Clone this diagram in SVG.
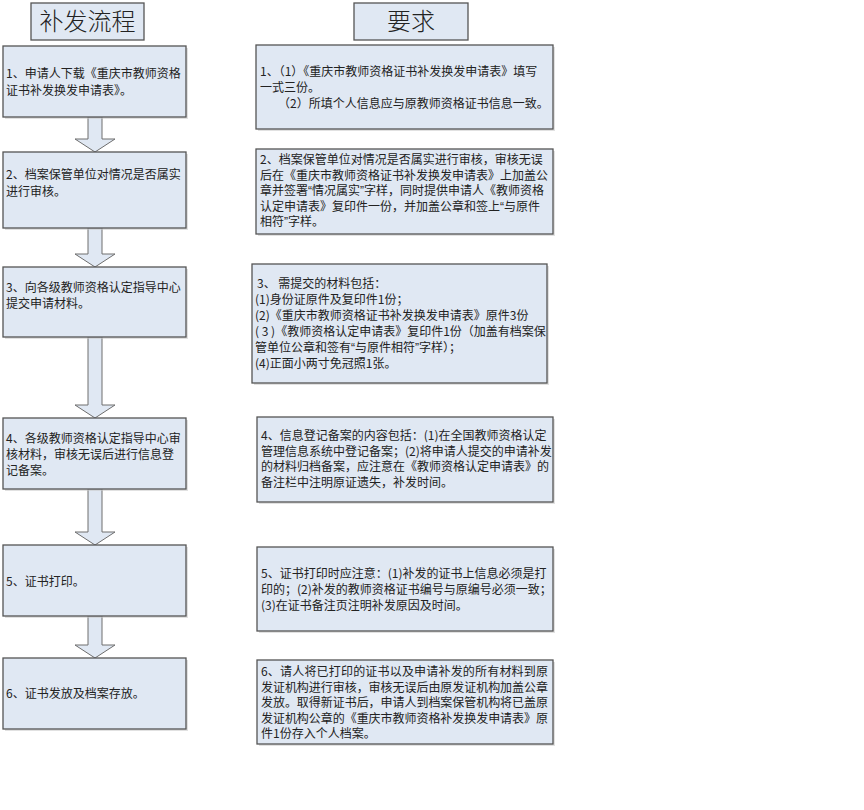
<svg xmlns="http://www.w3.org/2000/svg" width="864" height="810" viewBox="0 0 864 810">
<style>
.bg{fill:#ffffff}
.box{fill:#e0e8f3;stroke:#555555;stroke-width:1.3}
.sh{fill:#c8c8c8;opacity:0.55}
.arr{fill:#e0e8f3;stroke:#6e6e6e;stroke-width:1}
.t{font-family:"Noto Sans CJK SC","Noto Sans",sans-serif;font-size:12px;fill:#222222}
.h{font-family:"Noto Sans CJK SC","Noto Sans",sans-serif;font-size:24px;font-weight:300;fill:#222222;text-anchor:middle}
.q{font-family:"Liberation Sans",sans-serif}
</style>
<rect class="bg" x="0" y="0" width="864" height="810"/>

<g id="connectors">
  <polygon class="arr" points="88,117 102,117 102,139 115,139 95,152 75,139 88,139"/>
  <polygon class="arr" points="88,228 102,228 102,254 115,254 95,267 75,254 88,254"/>
  <polygon class="arr" points="88,337 102,337 102,405 115,405 95,418 75,405 88,405"/>
  <polygon class="arr" points="88,489 102,489 102,532 115,532 95,545 75,532 88,532"/>
  <polygon class="arr" points="88,616 102,616 102,645 115,645 95,658 75,645 88,645"/>
</g>

<g id="title-process">
  <rect class="box" x="31" y="3" width="113" height="37"/>
  <text class="h" x="87.5" y="30">补发流程</text>
</g>
<g id="title-requirements">
  <rect class="box" x="354" y="3" width="114" height="37"/>
  <text class="h" x="411" y="30">要求</text>
</g>

<g id="step1">
  <rect class="sh" x="5" y="48" width="183" height="71"/>
  <rect class="box" x="3" y="46" width="183" height="71"/>
  <text class="t" x="6" y="78">1、申请人下载《重庆市教师资格</text>
  <text class="t" x="6" y="95">证书补发换发申请表》。</text>
</g>
<g id="step2">
  <rect class="sh" x="5" y="154" width="183" height="76"/>
  <rect class="box" x="3" y="152" width="183" height="76"/>
  <text class="t" x="6" y="179">2、档案保管单位对情况是否属实</text>
  <text class="t" x="6" y="196">进行审核。</text>
</g>
<g id="step3">
  <rect class="sh" x="5" y="269" width="183" height="70"/>
  <rect class="box" x="3" y="267" width="183" height="70"/>
  <text class="t" x="6" y="292">3、向各级教师资格认定指导中心</text>
  <text class="t" x="6" y="308">提交申请材料。</text>
</g>
<g id="step4">
  <rect class="sh" x="5" y="420" width="183" height="71"/>
  <rect class="box" x="3" y="418" width="183" height="71"/>
  <text class="t" x="6" y="443">4、各级教师资格认定指导中心审</text>
  <text class="t" x="6" y="459">核材料，审核无误后进行信息登</text>
  <text class="t" x="6" y="475">记备案。</text>
</g>
<g id="step5">
  <rect class="sh" x="5" y="547" width="183" height="71"/>
  <rect class="box" x="3" y="545" width="183" height="71"/>
  <text class="t" x="6" y="586">5、证书打印。</text>
</g>
<g id="step6">
  <rect class="sh" x="5" y="660" width="183" height="71"/>
  <rect class="box" x="3" y="658" width="183" height="71"/>
  <text class="t" x="6" y="698">6、证书发放及档案存放。</text>
</g>

<g id="req1">
  <rect class="sh" x="258" y="47" width="297" height="84"/>
  <rect class="box" x="256" y="45" width="297" height="84"/>
  <text class="t" x="260" y="76">1、（1）《重庆市教师资格证书补发换发申请表》填写</text>
  <text class="t" x="260" y="92">一式三份。</text>
  <text class="t" x="278" y="108">（2）所填个人信息应与原教师资格证书信息一致。</text>
</g>
<g id="req2">
  <rect class="sh" x="258" y="151" width="297" height="85"/>
  <rect class="box" x="256" y="149" width="297" height="85"/>
  <text class="t" x="260" y="164">2、档案保管单位对情况是否属实进行审核，审核无误</text>
  <text class="t" x="260" y="179.5">后在《重庆市教师资格证书补发换发申请表》上加盖公</text>
  <text class="t" x="260" y="195">章并签署<tspan class="q">“</tspan>情况属实<tspan class="q">”</tspan>字样，同时提供申请人《教师资格</text>
  <text class="t" x="260" y="210.5">认定申请表》复印件一份，并加盖公章和签上<tspan class="q">“</tspan>与原件</text>
  <text class="t" x="260" y="226">相符<tspan class="q">”</tspan>字样。</text>
</g>
<g id="req3">
  <rect class="sh" x="254" y="266" width="295" height="119"/>
  <rect class="box" x="252" y="264" width="295" height="119"/>
  <text class="t" x="257" y="288">3、 需提交的材料包括：</text>
  <text class="t" x="255" y="304">(1)身份证原件及复印件1份；</text>
  <text class="t" x="255" y="320">(2)《重庆市教师资格证书补发换发申请表》原件3份</text>
  <text class="t" x="255" y="336">( 3 )《教师资格认定申请表》复印件1份（加盖有档案保</text>
  <text class="t" x="255" y="352">管单位公章和签有<tspan class="q">“</tspan>与原件相符<tspan class="q">”</tspan>字样）；</text>
  <text class="t" x="255" y="368">(4)正面小两寸免冠照1张。</text>
</g>
<g id="req4">
  <rect class="sh" x="259" y="419" width="296" height="85"/>
  <rect class="box" x="257" y="417" width="296" height="85"/>
  <text class="t" x="261" y="440">4、信息登记备案的内容包括：(1)在全国教师资格认定</text>
  <text class="t" x="261" y="455.5">管理信息系统中登记备案；(2)将申请人提交的申请补发</text>
  <text class="t" x="261" y="471">的材料归档备案，应注意在《教师资格认定申请表》的</text>
  <text class="t" x="261" y="486.5">备注栏中注明原证遗失，补发时间。</text>
</g>
<g id="req5">
  <rect class="sh" x="259" y="549" width="296" height="84"/>
  <rect class="box" x="257" y="547" width="296" height="84"/>
  <text class="t" x="261" y="578">5、证书打印时应注意：(1)补发的证书上信息必须是打</text>
  <text class="t" x="261" y="594">印的；(2)补发的教师资格证书编号与原编号必须一致；</text>
  <text class="t" x="261" y="610">(3)在证书备注页注明补发原因及时间。</text>
</g>
<g id="req6">
  <rect class="sh" x="259" y="662" width="296" height="84"/>
  <rect class="box" x="257" y="660" width="296" height="84"/>
  <text class="t" x="261" y="676" textLength="287" lengthAdjust="spacing">6、请人将已打印的证书以及申请补发的所有材料到原</text>
  <text class="t" x="261" y="691.5" textLength="287" lengthAdjust="spacing">发证机构进行审核，审核无误后由原发证机构加盖公章</text>
  <text class="t" x="261" y="707" textLength="287" lengthAdjust="spacing">发放。取得新证书后，申请人到档案保管机构将已盖原</text>
  <text class="t" x="261" y="722.5" textLength="287" lengthAdjust="spacing">发证机构公章的《重庆市教师资格补发换发申请表》原</text>
  <text class="t" x="261" y="738">件1份存入个人档案。</text>
</g>
</svg>
